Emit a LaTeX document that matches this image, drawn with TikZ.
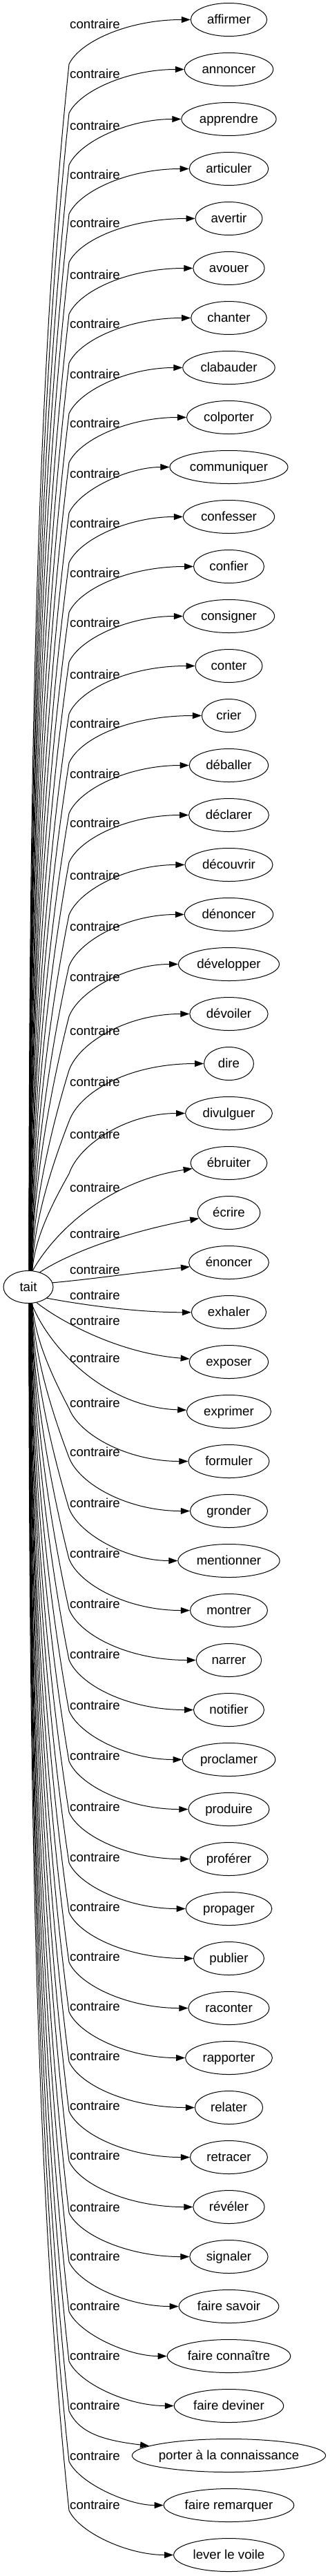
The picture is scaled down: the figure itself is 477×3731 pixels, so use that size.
\documentclass[tikz,border=0pt]{standalone}
\usepackage{fontspec}
\setmainfont{Liberation Sans}
\usetikzlibrary{arrows.meta,shapes.geometric,calc}
\newcommand\nf{\fontsize{18.67pt}{22pt}\selectfont}
\begin{document}
\begin{tikzpicture}[x=1pt,y=-1pt,
  rn/.style={draw, ellipse, line width=1pt, inner sep=0pt, minimum height=48pt},
  txt/.style={inner sep=0pt, text height=12pt, text depth=0pt, font=\nf},
  lbl/.style={anchor=base west, inner sep=0pt, font=\nf},
  conn/.style={draw, line width=1pt, -{Triangle[length=13pt,width=9pt]}}]
\fill[white] (0,0) rectangle (477,3731);
\useasboundingbox (0,0) rectangle (477,3731);

\node[rn, txt, minimum width=72pt, minimum height=47pt] (tait) at (41,1864) {tait};

\foreach \i/\w in {0/affirmer, 1/annoncer, 2/apprendre, 3/articuler, 4/avertir,
  5/avouer, 6/chanter, 7/clabauder, 8/colporter, 9/communiquer, 10/confesser,
  11/confier, 12/consigner, 13/conter, 14/crier, 15/déballer, 16/déclarer,
  17/découvrir, 18/dénoncer, 19/développer, 20/dévoiler, 21/dire, 22/divulguer,
  23/ébruiter, 24/écrire, 25/énoncer, 26/exhaler, 27/exposer, 28/exprimer,
  29/formuler, 30/gronder, 31/mentionner, 32/montrer, 33/narrer, 34/notifier,
  35/proclamer, 36/produire, 37/proférer, 38/propager, 39/publier, 40/raconter,
  41/rapporter, 42/relater, 43/retracer, 44/révéler, 45/signaler,
  46/faire savoir, 47/faire connaître, 48/faire deviner,
  49/porter à la connaissance, 50/faire remarquer, 51/lever le voile}{
  \pgfmathsetmacro\yy{28.5+72*\i}
  \node[txt] (t\i) at (331.5,\yy) {\w};
  \path let \p1 = ($(t\i.east)-(t\i.west)$) in
    node[rn, minimum width={33.7pt+1.21*\x1}] (n\i) at (331.5,\yy) {};
}

\foreach \i/\lab in {0/36, 1/107, 2/182, 3/253, 4/323, 5/398, 6/469, 7/542,
  8/613, 9/686, 10/758, 11/830, 12/902, 13/977, 14/1048, 15/1121, 16/1192,
  17/1268, 18/1342, 19/1415, 20/1493, 21/1567, 22/1643, 23/1720, 24/1787,
  25/1839, 26/1876, 27/1913, 28/1967, 29/2032, 30/2103, 31/2177, 32/2250,
  33/2323, 34/2396, 35/2470, 36/2543, 37/2617, 38/2690, 39/2762, 40/2834,
  41/2906, 42/2978, 43/3050, 44/3122, 45/3197, 46/3268, 47/3340, 48/3412,
  49/3484, 50/3557, 51/3628}{
  \pgfmathsetmacro\yl{\lab+6}
  \node[lbl] (l\i) at (101,\yl) {contraire};
}

% upper edges
\foreach \i/\lab in {0/36, 1/107, 2/182, 3/253, 4/323, 5/398, 6/469, 7/542,
  8/613, 9/686, 10/758, 11/830, 12/902, 13/977, 14/1048, 15/1121, 16/1192,
  17/1268, 18/1342, 19/1415, 20/1493, 21/1567, 22/1643}{
  \pgfmathsetmacro\yt{28.5+72*\i}
  \pgfmathsetmacro\yb{\lab+57}
  \pgfmathsetmacro\L{1841-\yb}
  \pgfmathtruncatemacro\ang{88-12*(\i/22)^2}
  \pgfmathsetmacro\xs{41+36*cos(\ang)}
  \pgfmathsetmacro\ya{1841-0.34*\L}
  \pgfmathsetmacro\xb{100-(20+0.0185*\L)}
  \pgfmathsetmacro\yc{\yb+0.285*\L}
  \pgfmathsetmacro\yd{\yb-0.5*(\yb-\yt)}
  \draw[conn] (tait.\ang) .. controls (\xs,\ya) and (\xb,\yc) .. (100,\yb)
     .. controls (115,\yd) and (185,\yt) .. (n\i);
}

% lower edges
\foreach \i/\lab in {29/2032, 30/2103, 31/2177, 32/2250, 33/2323, 34/2396,
  35/2470, 36/2543, 37/2617, 38/2690, 39/2762, 40/2834, 41/2906, 42/2978,
  43/3050, 44/3122, 45/3197, 46/3268, 47/3340, 48/3412, 49/3484, 50/3557,
  51/3628}{
  \pgfmathsetmacro\yt{28.5+72*\i}
  \pgfmathsetmacro\yb{\lab+8}
  \pgfmathsetmacro\L{\yb-1887}
  \pgfmathtruncatemacro\ang{88-12*((51-\i)/22)^2}
  \pgfmathtruncatemacro\angl{360-\ang}
  \pgfmathsetmacro\xs{41+36*cos(\ang)}
  \pgfmathsetmacro\ya{1887+0.34*\L}
  \pgfmathsetmacro\xb{100-(20+0.0185*\L)}
  \pgfmathsetmacro\yc{\yb-0.285*\L}
  \pgfmathsetmacro\yd{\yb+0.5*(\yt-\yb)}
  \pgfmathsetmacro\xe{\i==49 ? 150 : 185}
  \pgfmathsetmacro\ye{\i==49 ? \yt-22 : \yt}
  \draw[conn] (tait.\angl) .. controls (\xs,\ya) and (\xb,\yc) .. (100,\yb)
     .. controls (115,\yd) and (\xe,\ye) .. (n\i);
}

% middle edges
\draw[conn] (tait.75) .. controls (75,1790) and (150,1712) .. (n23);
\draw[conn] (tait.52) .. controls (100,1815) and (180,1785) .. (n24);
\draw[conn] (tait.10) .. controls (130,1853) and (200,1843) .. (n25);
\draw[conn] (tait.-31) .. controls (120,1890) and (200,1901) .. (n26);
\draw[conn] (tait.-62) .. controls (85,1912) and (170,1960) .. (n27);
\draw[conn] (tait.-79) .. controls (70,1950) and (150,2038) .. (n28);
\end{tikzpicture}
\end{document}
